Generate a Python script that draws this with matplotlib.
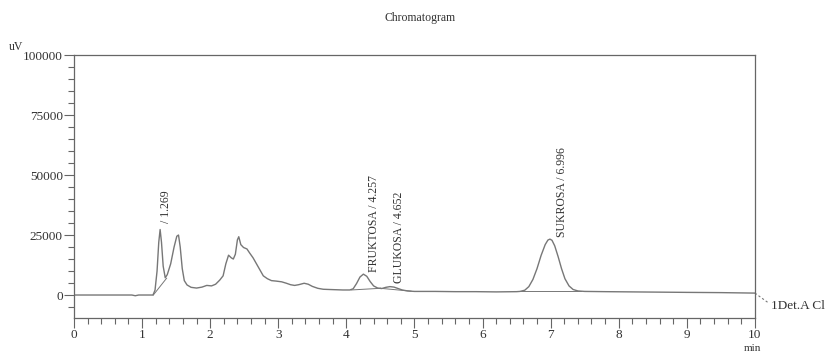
import numpy as np
import matplotlib.pyplot as plt
from matplotlib.ticker import MultipleLocator

# retention time (min) and detector signal (uV)
time_min = [0.0, 0.5, 0.85, 0.9, 0.95, 1.1, 1.16, 1.19, 1.22, 1.245, 1.265, 1.285,
            1.31, 1.34, 1.37, 1.42, 1.47, 1.51, 1.535, 1.56, 1.59, 1.62, 1.66,
            1.72, 1.80, 1.88, 1.95, 2.02, 2.08, 2.14, 2.19, 2.23, 2.27, 2.31,
            2.34, 2.37, 2.40, 2.42, 2.45, 2.49, 2.54, 2.58, 2.63, 2.68, 2.73,
            2.78, 2.84, 2.90, 2.97, 3.05, 3.12, 3.18, 3.24, 3.30, 3.38, 3.44,
            3.50, 3.58, 3.66, 3.75, 3.85, 3.95, 4.05, 4.10, 4.15, 4.20, 4.25,
            4.30, 4.35, 4.40, 4.46, 4.52, 4.58, 4.64, 4.70, 4.76, 4.82, 4.90,
            5.00, 5.3, 5.6, 5.9, 6.2, 6.5, 6.55, 6.62, 6.68, 6.74, 6.80, 6.86,
            6.92, 6.96, 6.99, 7.02, 7.06, 7.11, 7.16, 7.21, 7.27, 7.33, 7.40,
            7.5, 7.8, 8.2, 8.6, 9.0, 9.5, 10.0]
signal_uv = [0, 0, 0, -300, 0, 0, 0, 2000, 10000, 22000, 27300, 22000,
             12000, 7200, 8500, 13000, 20000, 24500, 25000, 20000, 11000, 6000, 4200,
             3200, 2900, 3300, 4000, 3800, 4500, 6200, 8000, 13000, 16600, 15500,
             15000, 17000, 23000, 24300, 21000, 19800, 19200, 17500, 15500, 13000, 10500,
             8000, 6800, 6000, 5800, 5500, 4900, 4300, 4000, 4300, 4900, 4500,
             3600, 2800, 2400, 2300, 2200, 2100, 2100, 2600, 4800, 7500, 8700,
             7800, 5600, 3800, 2900, 2700, 3200, 3500, 3300, 2700, 2100, 1700,
             1500, 1500, 1400, 1400, 1300, 1400, 1500, 2000, 3500, 6500, 11000, 16500,
             21000, 22900, 23300, 22800, 20500, 16000, 11000, 6800, 3800, 2300, 1700,
             1500, 1400, 1300, 1200, 1100, 1000, 800]

# integration baselines drawn under the peaks
base_t = [[1.165, 1.36], [4.07, 4.50], [4.50, 4.95], [6.55, 7.45]]
base_v = [[0, 7000], [2100, 2800], [2800, 1600], [1500, 1500]]

# peak labels
peak_names = ["/ 1.269", "FRUKTOSA / 4.257", "GLUKOSA / 4.652", "SUKROSA / 6.996"]
label_t = [1.35, 4.40, 4.77, 7.17]
label_v = [30000, 9800, 5000, 24200]

plt.rcParams['font.family'] = ['Liberation Serif', 'DejaVu Serif']

fig = plt.figure(figsize=(8.36, 3.53), dpi=100)
ax = fig.add_axes([0.0885, 0.099, 0.8145, 0.745])

line_col = '#777777'
text_col = '#333333'

ax.plot(time_min, signal_uv, color=line_col, lw=1.0)
for bt, bv in zip(base_t, base_v):
    ax.plot(bt, bv, color=line_col, lw=0.7)

for name, t, v in zip(peak_names, label_t, label_v):
    ax.text(t, v, name, rotation=90, ha='center', va='bottom',
            fontsize=8.5, color=text_col)

ax.set_xlim(0, 10)
ax.set_ylim(-9600, 100000)
ax.xaxis.set_major_locator(MultipleLocator(1))
ax.xaxis.set_minor_locator(MultipleLocator(0.2))
ax.yaxis.set_major_locator(MultipleLocator(25000))
ax.yaxis.set_minor_locator(MultipleLocator(5000))
ax.tick_params(which='major', length=7, width=0.8, color='#666666',
               labelsize=9.5, labelcolor=text_col)
ax.tick_params(which='minor', length=4, width=0.8, color='#666666')
ax.tick_params(axis='y', pad=1)
ax.tick_params(axis='x', pad=1)
for s in ax.spines.values():
    s.set_color('#666666')
    s.set_linewidth(0.9)

# detector channel tag outside right edge
ax.plot([10, 10.2], [800, -3300], color=line_col, lw=0.8, ls=(0, (2, 2)),
        clip_on=False)
ax.text(10.24, -4500, "1Det.A Cl", fontsize=9.5, color=text_col,
        va='center', ha='left', clip_on=False)

fig.text(0.502, 0.95, "Chromatogram", fontsize=8.5, color=text_col,
         ha='center', va='center')
fig.text(0.01, 0.868, "uV", fontsize=8.5, color=text_col, ha='left', va='center')
fig.text(0.9, 0.0, "min", fontsize=8, color=text_col, ha='center', va='bottom')

fig.savefig("out.png", dpi=100)
